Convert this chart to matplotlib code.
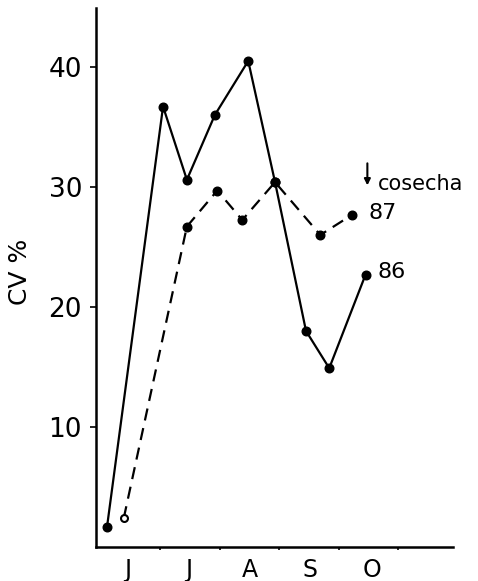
import matplotlib.pyplot as plt
import numpy as np

# month position: 5 = start of June, 6 = start of July, ...
x_86 = [5.11, 6.05, 6.45, 6.92, 7.48, 7.93, 8.45, 8.84, 9.45]
cv_86 = [1.7, 36.7, 30.6, 36.0, 40.5, 30.4, 18.0, 14.9, 22.7]

x_87 = [5.39, 6.45, 6.96, 7.38, 7.93, 8.69, 9.23]
cv_87 = [2.4, 26.7, 29.7, 27.25, 30.4, 26.0, 27.7]

months = ["J", "J", "A", "S", "O"]
month_starts = [6, 7, 8, 9, 10]
month_mids = [5.45, 6.48, 7.51, 8.52, 9.55]
y_ticks = [10, 20, 30, 40]

fig = plt.figure(figsize=(4.78, 5.81), dpi=100)
ax = fig.add_axes([0.2008, 0.0585, 0.7472, 0.9275])

ax.plot(x_86, cv_86, color='black', lw=1.6, marker='o', ms=6.2, zorder=3)
ax.plot(x_87[1:], cv_87[1:], color='black', lw=1.6, ls=(0, (5.5, 3.5)), marker='o', ms=6.2, zorder=3)
# first point of 87 is an open circle
ax.plot(x_87[:2], cv_87[:2], color='black', lw=1.6, ls=(0, (5.5, 3.5)), zorder=2)
ax.plot(x_87[0], cv_87[0], marker='o', ms=5, mfc='white', mec='black', mew=1.5, zorder=4)

ax.set_xlim(4.924, 10.92)
ax.set_ylim(0, 44.9)

for s in ['top', 'right']:
    ax.spines[s].set_visible(False)
for s in ['left', 'bottom']:
    ax.spines[s].set_linewidth(1.8)

ax.set_yticks(y_ticks)
ax.set_yticklabels([str(v) for v in y_ticks], fontsize=19)
ax.tick_params(axis='y', direction='out', length=4, width=1.2, pad=6)

ax.set_xticks(month_starts)
ax.set_xticklabels([])
ax.tick_params(axis='x', which='major', direction='out', length=2.5, width=1.2)
ax.set_xticks(month_mids, minor=True)
ax.set_xticklabels(months, minor=True, fontsize=17)
ax.tick_params(axis='x', which='minor', length=0, pad=8)

ax.set_ylabel("CV %", fontsize=18)
ax.yaxis.set_label_coords(-0.18, 0.51)

ax.annotate("", xy=(9.48, 29.9), xytext=(9.48, 32.2),
            arrowprops=dict(arrowstyle='-|>', color='black', lw=1.5, mutation_scale=9))
ax.text(9.66, 30.25, "cosecha", fontsize=15, va='center', ha='left')
ax.text(9.5, 27.8, "87", fontsize=16, va='center', ha='left')
ax.text(9.65, 22.9, "86", fontsize=16, va='center', ha='left')

fig.savefig("out.png", dpi=100)
